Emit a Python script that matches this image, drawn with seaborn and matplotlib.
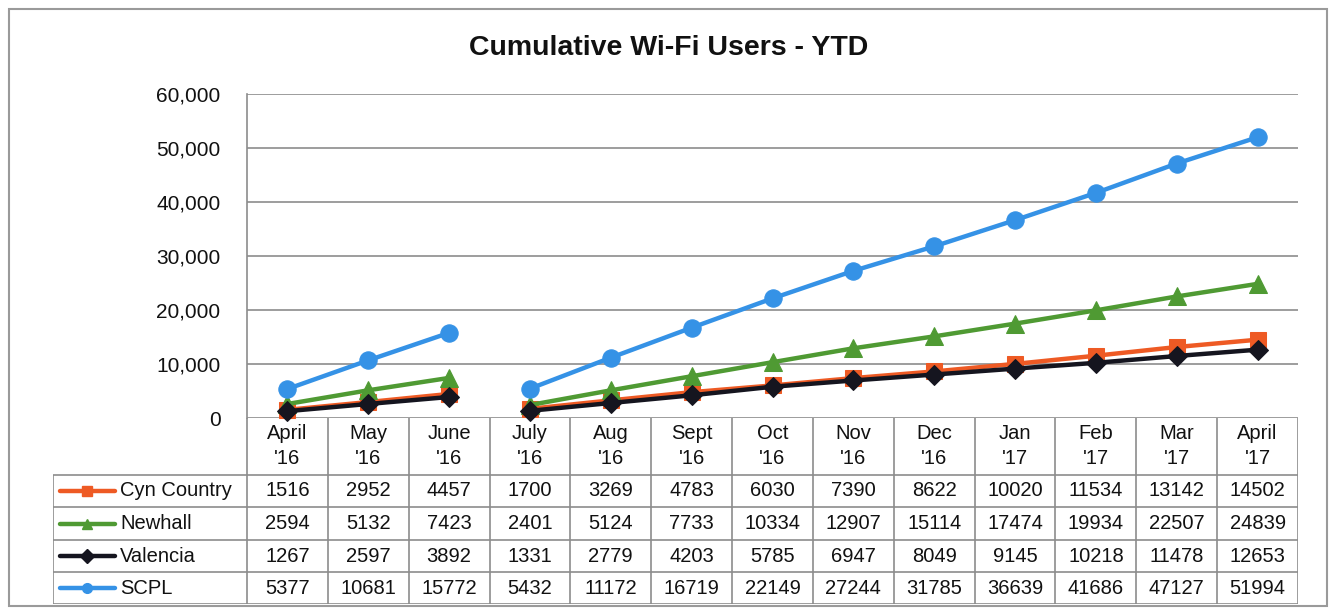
import numpy as np
import pandas as pd
import seaborn as sns
import matplotlib.pyplot as plt
from matplotlib.patches import Rectangle
from matplotlib.ticker import FuncFormatter

months = ["April\n'16", "May\n'16", "June\n'16", "July\n'16", "Aug\n'16", "Sept\n'16",
          "Oct\n'16", "Nov\n'16", "Dec\n'16", "Jan\n'17", "Feb\n'17", "Mar\n'17", "April\n'17"]
segment = [0, 0, 0, 1, 1, 1, 1, 1, 1, 1, 1, 1, 1]

cyn_country = [1516, 2952, 4457, 1700, 3269, 4783, 6030, 7390, 8622, 10020, 11534, 13142, 14502]
newhall = [2594, 5132, 7423, 2401, 5124, 7733, 10334, 12907, 15114, 17474, 19934, 22507, 24839]
valencia = [1267, 2597, 3892, 1331, 2779, 4203, 5785, 6947, 8049, 9145, 10218, 11478, 12653]
scpl = [5377, 10681, 15772, 5432, 11172, 16719, 22149, 27244, 31785, 36639, 41686, 47127, 51994]

series = ["Cyn Country", "Newhall", "Valencia", "SCPL"]
values = [cyn_country, newhall, valencia, scpl]
colors = {"Cyn Country": "#EE5A24", "Newhall": "#4F9A33", "Valencia": "#15151F", "SCPL": "#3592E6"}
markers = {"Cyn Country": "s", "Newhall": "^", "Valencia": "D", "SCPL": "o"}
msizes = {"Cyn Country": 11.5, "Newhall": 12.5, "Valencia": 10, "SCPL": 12.5}

rows = []
for name, vals in zip(series, values):
    for i, v in enumerate(vals):
        rows.append({"series": name, "pos": i, "users": v, "segment": segment[i]})
df = pd.DataFrame(rows)

sns.set_style("white")
plt.rcParams['font.family'] = ['Liberation Sans', 'DejaVu Sans']

W, H = 1330, 608
fig = plt.figure(figsize=(W / 100, H / 100), dpi=100)

x0, x1 = 247, 1298
ytop, ybot = 94, 418
unit = (x1 - x0) / 13.0

ax = fig.add_axes([x0 / W, 1 - ybot / H, (x1 - x0) / W, (ybot - ytop) / H])
ax.set_zorder(3)
ax.patch.set_alpha(0)

for name in series:
    sub = df[df.series == name]
    sns.lineplot(data=sub, x="pos", y="users", units="segment", estimator=None,
                 color=colors[name], marker=markers[name], markersize=msizes[name],
                 markeredgecolor=colors[name], linewidth=3.2, ax=ax, clip_on=False)

ax.set_xlim(-0.5, 12.5)
ax.set_ylim(0, 60000)
ax.set_yticks(np.arange(0, 60001, 10000))
ax.yaxis.set_major_formatter(FuncFormatter(lambda v, p: f"{int(v):,}"))
ax.tick_params(axis="y", length=0, pad=19, labelsize=15, colors="#111111")
ax.set_xticks(range(13))
ax.set_xticklabels(months, fontsize=14.5, linespacing=1.4)
ax.tick_params(axis="x", length=0, pad=4, colors="#111111")
ax.set_xlabel("")
ax.set_ylabel("")
ax.grid(axis="y", color="#8c8c8c", linewidth=1.2)
ax.grid(axis="x", visible=False)
for s in ["top", "right", "bottom"]:
    ax.spines[s].set_visible(False)
ax.spines["left"].set_color("#8c8c8c")
ax.spines["left"].set_linewidth(1.2)

# data table below the chart
tl, tb = 53, 604
ax_t = fig.add_axes([tl / W, 1 - tb / H, (x1 - tl) / W, (tb - ybot) / H])
ax_t.set_xlim(-0.5 - (x0 - tl) / unit, 12.5)
ax_t.set_ylim(tb, ybot)
ax_t.axis("off")
row_edges = [475, 507, 540, 572, 604]
lc = "#8c8c8c"
for k in range(14):
    ax_t.vlines(-0.5 + k, ybot, tb, color=lc, lw=1.2)
ax_t.vlines(-0.5 - (x0 - tl) / unit, row_edges[0], tb, color=lc, lw=1.2)
for y in row_edges:
    ax_t.hlines(y, -0.5 - (x0 - tl) / unit, 12.5, color=lc, lw=1.2)

lx0 = -0.5 - (x0 - 60) / unit
lx1 = -0.5 - (x0 - 115) / unit
tx = -0.5 - (x0 - 120) / unit
for r, (name, vals) in enumerate(zip(series, values)):
    yc = (row_edges[r] + row_edges[r + 1]) / 2
    ax_t.plot([lx0, lx1], [yc, yc], color=colors[name], lw=3.2)
    ax_t.plot([(lx0 + lx1) / 2], [yc], color=colors[name], marker=markers[name],
              markersize=7, markeredgecolor=colors[name])
    ax_t.text(tx, yc, name, ha="left", va="center", fontsize=14.5, color="#111111")
    for i, v in enumerate(vals):
        ax_t.text(i, yc, str(v), ha="center", va="center", fontsize=14.5, color="#111111")

fig.text(669 / W, 1 - 48 / H, "Cumulative Wi-Fi Users - YTD", ha="center", va="center",
         fontsize=20.5, fontweight="bold", color="#111111")
fig.patches.append(Rectangle((9 / W, 1 - 606 / H), (1327 - 9) / W, (606 - 9) / H,
                             transform=fig.transFigure, fill=False, edgecolor="#9a9a9a", lw=1.5))

fig.savefig("out.png", dpi=100)
